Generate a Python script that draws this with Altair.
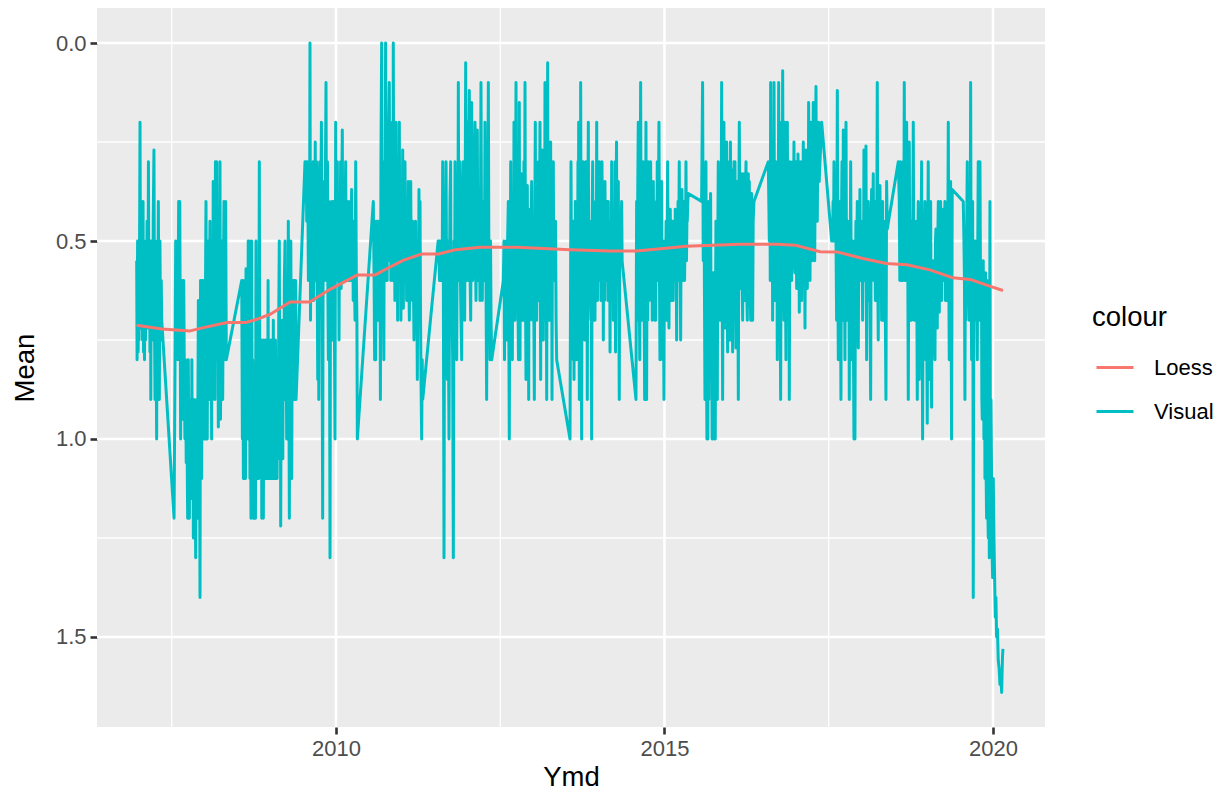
import altair as alt
import pandas as pd

# ---------------- data ----------------
visual_2007a = [(2006.966,0.55),(2006.972,0.80),(2006.980,0.50),(2006.988,0.78),(2006.995,0.60),(2007.002,0.75),(2007.010,0.50),(2007.017,0.20),(2007.025,0.72),(2007.033,0.40),(2007.040,0.70),(2007.047,0.45),(2007.055,0.75),(2007.063,0.40),(2007.070,0.78),(2007.078,0.50),(2007.085,0.80),(2007.093,0.55),(2007.100,0.75),(2007.108,0.50),(2007.116,0.70),(2007.124,0.45),(2007.132,0.72),(2007.140,0.55),(2007.145,0.30),(2007.152,0.70),(2007.160,0.50),(2007.168,0.78),(2007.175,0.50),(2007.181,0.90),(2007.188,0.50),(2007.195,0.70),(2007.202,0.50),(2007.210,0.75),(2007.218,0.45),(2007.229,0.27),(2007.237,0.70),(2007.245,0.90),(2007.253,0.50),(2007.261,0.75),(2007.270,1.00),(2007.278,0.55),(2007.287,0.70),(2007.296,0.40),(2007.304,0.75),(2007.311,0.90),(2007.320,0.50),(2007.330,0.75),(2007.340,0.60),(2007.347,0.70),(2007.535,1.20)]

visual_2007b = [(2007.550,0.80),(2007.560,0.50),(2007.570,0.78),(2007.580,0.50),(2007.592,0.80),(2007.605,0.40),(2007.613,0.80),(2007.622,0.40),(2007.635,1.00),(2007.645,0.60),(2007.655,0.90),(2007.664,0.60),(2007.673,0.95),(2007.682,0.60),(2007.690,0.80),(2007.700,1.00),(2007.710,0.80),(2007.720,1.06),(2007.728,0.90),(2007.742,1.20),(2007.752,0.80),(2007.760,1.10),(2007.768,1.20),(2007.776,0.90),(2007.784,1.15),(2007.792,0.90),(2007.800,1.10),(2007.806,0.80),(2007.813,1.15),(2007.821,0.95),(2007.829,1.25),(2007.837,0.90),(2007.845,1.20),(2007.853,0.95),(2007.864,1.30),(2007.872,1.00),(2007.880,0.90),(2007.888,1.20),(2007.897,0.95),(2007.905,0.65),(2007.913,1.15),(2007.921,0.90),(2007.930,1.40),(2007.938,0.60),(2007.946,1.00),(2007.955,1.10),(2007.963,0.60),(2007.972,0.95),(2007.980,0.60),(2007.990,1.00),(2007.998,0.60),(2008.006,1.00),(2008.014,0.60),(2008.021,0.40),(2008.030,0.90),(2008.040,1.00),(2008.048,0.60),(2008.057,0.50),(2008.066,0.90),(2008.074,0.60),(2008.082,0.45),(2008.090,0.90),(2008.098,0.55),(2008.107,1.00),(2008.115,0.50),(2008.123,0.90),(2008.131,0.35),(2008.140,0.80),(2008.149,0.50),(2008.158,0.90),(2008.165,0.30),(2008.172,0.80),(2008.184,0.30),(2008.192,0.70),(2008.200,0.50),(2008.209,0.97),(2008.217,0.60),(2008.225,0.90),(2008.234,0.30),(2008.242,0.95),(2008.250,0.60),(2008.258,0.80),(2008.266,0.50),(2008.275,0.90),(2008.285,0.60),(2008.295,0.40),(2008.303,0.80),(2008.312,0.50),(2008.320,0.40),(2008.330,0.80),(2008.565,0.60)]

visual_2008 = [(2008.575,1.00),(2008.582,0.60),(2008.590,1.10),(2008.598,0.70),(2008.606,1.00),(2008.614,0.60),(2008.622,1.10),(2008.630,0.57),(2008.638,0.90),(2008.646,0.60),(2008.655,1.00),(2008.664,0.50),(2008.672,0.90),(2008.680,0.50),(2008.690,1.10),(2008.698,0.80),(2008.706,1.20),(2008.716,0.50),(2008.724,1.00),(2008.732,0.80),(2008.741,1.20),(2008.750,0.90),(2008.758,1.20),(2008.766,0.85),(2008.774,1.20),(2008.782,0.50),(2008.790,1.10),(2008.798,0.80),(2008.806,1.00),(2008.814,0.80),(2008.822,1.10),(2008.833,0.30),(2008.841,1.00),(2008.849,0.80),(2008.857,1.10),(2008.865,0.75),(2008.870,1.20),(2008.878,0.80),(2008.886,1.05),(2008.894,1.20),(2008.902,0.75),(2008.910,1.10),(2008.918,0.80),(2008.926,1.10),(2008.934,0.75),(2008.942,1.05),(2008.950,0.80),(2008.958,1.10),(2008.966,0.60),(2008.974,1.05),(2008.982,0.75),(2008.990,1.10),(2008.998,0.80),(2009.006,1.10),(2009.014,0.75),(2009.022,1.05),(2009.030,0.80),(2009.038,1.10),(2009.046,0.70),(2009.054,1.05),(2009.062,0.80),(2009.070,1.10),(2009.078,0.75),(2009.087,1.00),(2009.095,0.80),(2009.103,1.10),(2009.111,0.80),(2009.120,1.05),(2009.128,0.70),(2009.137,0.50),(2009.145,1.00),(2009.152,0.70),(2009.158,1.22),(2009.166,0.80),(2009.174,1.00),(2009.182,0.70),(2009.190,1.05),(2009.198,0.70),(2009.206,0.90),(2009.214,0.60),(2009.224,0.50),(2009.232,0.90),(2009.240,0.70),(2009.249,1.00),(2009.257,0.60),(2009.266,0.90),(2009.274,0.45),(2009.282,0.80),(2009.290,1.20),(2009.298,0.60),(2009.306,0.90),(2009.312,0.50),(2009.320,0.80),(2009.326,1.10),(2009.334,0.70),(2009.342,0.90),(2009.350,0.60),(2009.360,0.80),(2009.368,0.60),(2009.376,0.90),(2009.386,0.60),(2009.392,0.90),(2009.528,0.30)]

visual_2009 = [(2009.538,0.40),(2009.546,0.30),(2009.555,0.45),(2009.563,0.30),(2009.572,0.40),(2009.580,0.60),(2009.588,0.40),(2009.596,0.60),(2009.604,0.00),(2009.612,0.70),(2009.620,0.40),(2009.628,0.65),(2009.636,0.35),(2009.644,0.60),(2009.652,0.30),(2009.660,0.65),(2009.668,0.40),(2009.676,0.60),(2009.684,0.25),(2009.692,0.60),(2009.700,0.40),(2009.706,0.30),(2009.714,0.60),(2009.722,0.85),(2009.730,0.40),(2009.738,0.90),(2009.746,0.40),(2009.754,0.30),(2009.762,0.65),(2009.770,0.40),(2009.778,0.20),(2009.786,0.60),(2009.797,1.20),(2009.805,0.40),(2009.813,0.60),(2009.820,0.35),(2009.828,0.60),(2009.836,0.40),(2009.848,0.10),(2009.856,0.60),(2009.864,0.40),(2009.870,0.30),(2009.877,0.65),(2009.884,0.80),(2009.892,0.40),(2009.900,0.60),(2009.909,1.30),(2009.917,0.45),(2009.925,0.60),(2009.934,0.40),(2009.940,0.75),(2009.948,0.45),(2009.956,0.70),(2009.964,0.40),(2009.972,0.60),(2009.985,1.00),(2009.995,0.20),(2010.003,0.60),(2010.011,0.45),(2010.020,0.30),(2010.028,0.60),(2010.036,0.40),(2010.046,0.75),(2010.054,0.40),(2010.062,0.60),(2010.070,0.30),(2010.078,0.62),(2010.086,0.40),(2010.096,0.22),(2010.104,0.60),(2010.112,0.40),(2010.120,0.35),(2010.128,0.60),(2010.137,0.45),(2010.147,0.30),(2010.155,0.60),(2010.163,0.45),(2010.172,0.60),(2010.180,0.40),(2010.190,0.60),(2010.198,0.45),(2010.206,0.60),(2010.214,0.40),(2010.222,0.60),(2010.230,0.45),(2010.238,0.37),(2010.246,0.60),(2010.254,0.45),(2010.262,0.65),(2010.270,0.45),(2010.280,0.60),(2010.290,0.70),(2010.300,0.30),(2010.310,0.60),(2010.318,0.70),(2010.325,1.00),(2010.568,0.40)]

visual_2010 = [(2010.580,0.60),(2010.588,0.80),(2010.596,0.60),(2010.604,0.80),(2010.612,0.45),(2010.620,0.70),(2010.628,0.60),(2010.636,0.45),(2010.644,0.70),(2010.652,0.45),(2010.660,0.70),(2010.668,0.45),(2010.676,0.90),(2010.684,0.30),(2010.695,0.00),(2010.703,0.60),(2010.711,0.30),(2010.719,0.60),(2010.728,0.80),(2010.736,0.30),(2010.744,0.60),(2010.755,0.00),(2010.763,0.60),(2010.771,0.30),(2010.779,0.60),(2010.787,0.30),(2010.795,0.55),(2010.803,0.20),(2010.811,0.10),(2010.819,0.55),(2010.827,0.20),(2010.835,0.60),(2010.843,0.30),(2010.851,0.50),(2010.859,0.30),(2010.866,0.60),(2010.872,0.00),(2010.880,0.55),(2010.888,0.30),(2010.896,0.65),(2010.904,0.30),(2010.914,0.20),(2010.922,0.60),(2010.930,0.40),(2010.938,0.70),(2010.946,0.30),(2010.954,0.60),(2010.964,0.20),(2010.972,0.60),(2010.980,0.35),(2010.988,0.70),(2010.996,0.35),(2011.005,0.60),(2011.015,0.27),(2011.025,0.67),(2011.033,0.40),(2011.041,0.60),(2011.050,0.30),(2011.058,0.60),(2011.066,0.40),(2011.075,0.65),(2011.083,0.40),(2011.091,0.60),(2011.100,0.35),(2011.108,0.60),(2011.117,0.70),(2011.125,0.45),(2011.137,0.35),(2011.145,0.60),(2011.153,0.45),(2011.161,0.65),(2011.169,0.45),(2011.178,0.60),(2011.187,0.75),(2011.195,0.50),(2011.203,0.65),(2011.211,0.45),(2011.219,0.60),(2011.227,0.55),(2011.238,0.85),(2011.246,0.55),(2011.254,0.70),(2011.263,0.37),(2011.271,0.70),(2011.279,0.40),(2011.287,0.70),(2011.294,0.85),(2011.304,1.00),(2011.312,0.80),(2011.320,0.90),(2011.555,0.50)]

visual_2011 = [(2011.565,0.50),(2011.575,0.60),(2011.583,0.50),(2011.592,0.60),(2011.600,0.55),(2011.609,0.50),(2011.616,0.60),(2011.624,0.30),(2011.634,0.60),(2011.644,1.30),(2011.652,0.50),(2011.660,0.70),(2011.668,0.50),(2011.675,0.30),(2011.683,0.60),(2011.695,0.85),(2011.703,0.50),(2011.710,0.70),(2011.720,1.00),(2011.728,0.60),(2011.735,0.40),(2011.745,0.30),(2011.752,0.70),(2011.760,0.60),(2011.768,0.70),(2011.776,0.80),(2011.786,1.30),(2011.796,0.50),(2011.804,0.70),(2011.812,0.30),(2011.819,0.60),(2011.826,0.70),(2011.837,0.80),(2011.847,0.40),(2011.855,0.60),(2011.862,0.10),(2011.870,0.60),(2011.877,0.60),(2011.887,0.30),(2011.895,0.60),(2011.903,0.70),(2011.913,0.80),(2011.920,0.40),(2011.928,0.40),(2011.938,0.30),(2011.946,0.60),(2011.958,0.70),(2011.966,0.40),(2011.974,0.05),(2011.981,0.60),(2011.989,0.60),(2011.999,0.20),(2012.006,0.50),(2012.014,0.60),(2012.021,0.30),(2012.029,0.12),(2012.038,0.55),(2012.050,0.70),(2012.058,0.40),(2012.065,0.15),(2012.072,0.55),(2012.080,0.60),(2012.090,0.55),(2012.098,0.40),(2012.106,0.30),(2012.116,0.20),(2012.124,0.55),(2012.131,0.65),(2012.141,0.40),(2012.151,0.22),(2012.159,0.55),(2012.166,0.60),(2012.177,0.40),(2012.185,0.55),(2012.192,0.65),(2012.200,0.40),(2012.207,0.10),(2012.216,0.55),(2012.227,0.65),(2012.235,0.40),(2012.243,0.45),(2012.251,0.60),(2012.258,0.60),(2012.268,0.20),(2012.276,0.55),(2012.283,0.60),(2012.293,0.90),(2012.303,0.50),(2012.311,0.40),(2012.319,0.10),(2012.327,0.55),(2012.334,0.60),(2012.344,0.80),(2012.352,0.50),(2012.360,0.70),(2012.370,0.80),(2012.547,0.60)]

visual_2012 = [(2012.557,0.50),(2012.565,0.80),(2012.573,0.55),(2012.582,0.75),(2012.592,0.50),(2012.600,0.75),(2012.612,0.50),(2012.623,0.40),(2012.630,0.70),(2012.638,1.00),(2012.646,0.50),(2012.652,0.60),(2012.659,0.30),(2012.666,0.60),(2012.672,0.55),(2012.684,0.80),(2012.690,0.50),(2012.697,0.40),(2012.703,0.70),(2012.709,0.20),(2012.717,0.60),(2012.725,0.70),(2012.732,0.45),(2012.740,0.10),(2012.746,0.60),(2012.752,0.60),(2012.758,0.45),(2012.765,0.40),(2012.772,0.70),(2012.778,0.80),(2012.784,0.45),(2012.790,0.15),(2012.795,0.60),(2012.801,0.80),(2012.808,0.45),(2012.815,0.50),(2012.820,0.70),(2012.826,0.33),(2012.834,0.60),(2012.841,0.70),(2012.846,0.45),(2012.851,0.45),(2012.856,0.70),(2012.861,0.30),(2012.868,0.60),(2012.877,0.10),(2012.884,0.60),(2012.892,0.85),(2012.897,0.45),(2012.902,0.50),(2012.907,0.70),(2012.912,0.36),(2012.917,0.60),(2012.922,0.70),(2012.928,0.45),(2012.933,0.90),(2012.938,0.45),(2012.943,0.50),(2012.948,0.70),(2012.953,0.42),(2012.960,0.60),(2012.965,0.65),(2012.972,0.45),(2012.978,0.35),(2012.985,0.60),(2012.993,0.70),(2012.999,0.45),(2013.005,0.45),(2013.012,0.70),(2013.019,0.90),(2013.026,0.45),(2013.034,0.20),(2013.039,0.60),(2013.044,0.60),(2013.049,0.45),(2013.054,0.70),(2013.060,0.45),(2013.067,0.40),(2013.073,0.65),(2013.080,0.30),(2013.086,0.60),(2013.092,0.65),(2013.098,0.45),(2013.105,0.20),(2013.110,0.60),(2013.115,0.85),(2013.122,0.45),(2013.128,0.50),(2013.134,0.70),(2013.141,0.27),(2013.148,0.60),(2013.156,0.75),(2013.162,0.45),(2013.168,0.45),(2013.174,0.70),(2013.181,0.10),(2013.188,0.60),(2013.194,0.60),(2013.200,0.45),(2013.207,0.90),(2013.214,0.40),(2013.222,0.05),(2013.227,0.60),(2013.232,0.60),(2013.237,0.45),(2013.242,0.55),(2013.248,0.70),(2013.255,0.40),(2013.261,0.60),(2013.267,0.25),(2013.272,0.60),(2013.278,0.60),(2013.283,0.45),(2013.288,0.90),(2013.294,0.45),(2013.300,0.50),(2013.308,0.30),(2013.314,0.60),(2013.320,0.60),(2013.326,0.45),(2013.333,0.60),(2013.341,0.45),(2013.350,0.70),(2013.359,0.80),(2013.562,1.00)]

visual_2013 = [(2013.577,0.30),(2013.584,0.60),(2013.590,0.60),(2013.596,0.45),(2013.602,0.50),(2013.607,0.70),(2013.612,0.80),(2013.617,0.45),(2013.623,0.85),(2013.628,0.45),(2013.633,0.50),(2013.638,0.70),(2013.643,0.40),(2013.648,0.60),(2013.653,0.70),(2013.658,0.45),(2013.663,0.80),(2013.670,0.45),(2013.677,0.60),(2013.683,0.30),(2013.689,0.60),(2013.694,0.20),(2013.699,0.60),(2013.704,0.90),(2013.709,0.45),(2013.714,0.50),(2013.719,0.70),(2013.724,0.10),(2013.731,0.60),(2013.739,1.00),(2013.745,0.45),(2013.750,0.50),(2013.757,0.70),(2013.765,0.30),(2013.770,0.60),(2013.775,0.60),(2013.780,0.45),(2013.785,0.75),(2013.790,0.45),(2013.795,0.50),(2013.800,0.70),(2013.805,0.30),(2013.810,0.60),(2013.815,0.60),(2013.820,0.45),(2013.825,0.90),(2013.833,0.45),(2013.841,0.20),(2013.846,0.60),(2013.852,0.60),(2013.859,0.45),(2013.866,0.50),(2013.873,0.65),(2013.880,0.70),(2013.885,0.45),(2013.891,1.00),(2013.899,0.45),(2013.907,0.30),(2013.913,0.60),(2013.920,0.60),(2013.927,0.45),(2013.935,0.70),(2013.942,0.70),(2013.948,0.45),(2013.955,0.40),(2013.961,0.65),(2013.968,0.20),(2013.974,0.60),(2013.980,0.65),(2013.986,0.45),(2013.993,0.60),(2014.000,0.45),(2014.008,0.30),(2014.014,0.60),(2014.020,0.60),(2014.027,0.45),(2014.033,0.65),(2014.041,0.45),(2014.049,0.30),(2014.055,0.60),(2014.060,0.55),(2014.065,0.45),(2014.069,0.75),(2014.075,0.45),(2014.080,0.50),(2014.087,0.65),(2014.094,0.35),(2014.101,0.60),(2014.108,0.60),(2014.114,0.45),(2014.120,0.60),(2014.126,0.45),(2014.132,0.40),(2014.138,0.65),(2014.145,0.40),(2014.151,0.60),(2014.158,0.65),(2014.164,0.45),(2014.171,0.78),(2014.177,0.45),(2014.183,0.45),(2014.190,0.65),(2014.196,0.30),(2014.203,0.60),(2014.210,0.60),(2014.215,0.45),(2014.221,0.70),(2014.228,0.45),(2014.235,0.45),(2014.241,0.60),(2014.247,0.30),(2014.255,0.78),(2014.262,0.45),(2014.270,0.25),(2014.277,0.60),(2014.285,0.60),(2014.291,0.45),(2014.297,0.35),(2014.304,0.60),(2014.312,0.90),(2014.318,0.50),(2014.325,0.45),(2014.335,0.50),(2014.348,0.40),(2014.355,0.55),(2014.566,0.90)]

visual_2014 = [(2014.576,0.40),(2014.584,0.70),(2014.592,0.40),(2014.601,0.20),(2014.609,0.60),(2014.616,0.60),(2014.624,0.80),(2014.630,0.40),(2014.637,0.10),(2014.645,0.60),(2014.652,0.70),(2014.660,0.40),(2014.668,0.70),(2014.677,0.30),(2014.685,0.60),(2014.692,0.70),(2014.698,0.90),(2014.706,0.40),(2014.712,0.60),(2014.718,0.20),(2014.728,0.90),(2014.736,0.40),(2014.745,0.70),(2014.753,0.30),(2014.761,0.60),(2014.769,0.65),(2014.777,0.40),(2014.789,0.30),(2014.797,0.60),(2014.805,0.40),(2014.814,0.70),(2014.822,0.45),(2014.830,0.35),(2014.838,0.60),(2014.845,0.40),(2014.855,0.70),(2014.865,0.70),(2014.873,0.45),(2014.881,0.60),(2014.890,0.30),(2014.898,0.60),(2014.906,0.45),(2014.916,0.20),(2014.924,0.60),(2014.931,0.80),(2014.939,0.45),(2014.947,0.60),(2014.956,0.35),(2014.964,0.60),(2014.972,0.80),(2014.980,0.50),(2014.992,0.90),(2015.000,0.50),(2015.007,0.50),(2015.015,0.65),(2015.024,0.45),(2015.033,0.70),(2015.040,0.50),(2015.048,0.30),(2015.056,0.60),(2015.062,0.45),(2015.068,0.72),(2015.076,0.50),(2015.082,0.60),(2015.088,0.42),(2015.096,0.60),(2015.102,0.50),(2015.109,0.65),(2015.117,0.45),(2015.124,0.45),(2015.132,0.65),(2015.138,0.50),(2015.144,0.60),(2015.152,0.45),(2015.158,0.60),(2015.164,0.42),(2015.172,0.60),(2015.178,0.50),(2015.185,0.75),(2015.192,0.45),(2015.200,0.60),(2015.206,0.40),(2015.214,0.60),(2015.225,0.30),(2015.232,0.55),(2015.240,0.60),(2015.246,0.75),(2015.254,0.45),(2015.260,0.60),(2015.266,0.37),(2015.274,0.60),(2015.280,0.45),(2015.288,0.60),(2015.296,0.40),(2015.306,0.60),(2015.314,0.45),(2015.320,0.55),(2015.327,0.30),(2015.335,0.55),(2015.341,0.45),(2015.347,0.45),(2015.355,0.40),(2015.362,0.38),(2015.565,0.40)]

visual_2015 = [(2015.580,0.10),(2015.590,0.55),(2015.598,0.40),(2015.606,0.55),(2015.616,0.90),(2015.624,0.55),(2015.631,0.30),(2015.640,0.80),(2015.646,1.00),(2015.652,0.55),(2015.660,1.00),(2015.667,0.40),(2015.675,0.90),(2015.683,0.42),(2015.690,0.70),(2015.697,0.42),(2015.702,0.38),(2015.710,0.80),(2015.717,0.60),(2015.725,1.00),(2015.733,1.00),(2015.741,0.58),(2015.748,0.90),(2015.755,0.58),(2015.763,1.00),(2015.773,1.00),(2015.779,0.60),(2015.783,0.45),(2015.790,0.80),(2015.797,0.60),(2015.804,0.90),(2015.811,0.50),(2015.819,0.30),(2015.826,0.65),(2015.834,0.50),(2015.844,0.70),(2015.852,0.40),(2015.860,0.60),(2015.870,0.10),(2015.878,0.60),(2015.885,0.90),(2015.893,0.40),(2015.899,0.60),(2015.905,0.20),(2015.913,0.60),(2015.920,0.40),(2015.925,0.72),(2015.933,0.40),(2015.940,0.60),(2015.946,0.25),(2015.954,0.60),(2015.961,0.78),(2015.969,0.40),(2015.975,0.60),(2015.981,0.30),(2015.989,0.60),(2015.996,0.75),(2016.004,0.25),(2016.012,0.60),(2016.022,0.32),(2016.030,0.60),(2016.037,0.78),(2016.045,0.40),(2016.052,0.60),(2016.058,0.30),(2016.066,0.70),(2016.073,0.30),(2016.080,0.60),(2016.088,0.77),(2016.096,0.40),(2016.103,0.60),(2016.109,0.35),(2016.117,0.60),(2016.124,0.90),(2016.132,0.40),(2016.139,0.20),(2016.147,0.50),(2016.159,0.62),(2016.167,0.40),(2016.175,0.33),(2016.182,0.60),(2016.190,0.70),(2016.198,0.40),(2016.204,0.60),(2016.210,0.33),(2016.218,0.60),(2016.225,0.65),(2016.233,0.40),(2016.241,0.30),(2016.249,0.60),(2016.261,0.70),(2016.268,0.40),(2016.276,0.33),(2016.284,0.60),(2016.291,0.35),(2016.300,0.60),(2016.312,0.70),(2016.320,0.45),(2016.327,0.38),(2016.335,0.60),(2016.342,0.70),(2016.350,0.45),(2016.362,0.40),(2016.580,0.30)]

visual_2016 = [(2016.596,0.50),(2016.604,0.30),(2016.610,0.60),(2016.616,0.10),(2016.624,0.50),(2016.631,0.50),(2016.639,0.30),(2016.646,0.70),(2016.654,0.40),(2016.660,0.60),(2016.667,0.10),(2016.675,0.50),(2016.682,0.65),(2016.690,0.40),(2016.697,0.30),(2016.705,0.60),(2016.711,0.45),(2016.717,0.80),(2016.724,0.40),(2016.730,0.60),(2016.738,0.10),(2016.746,0.50),(2016.752,0.60),(2016.758,0.55),(2016.768,0.90),(2016.776,0.40),(2016.783,0.20),(2016.791,0.55),(2016.799,0.07),(2016.807,0.50),(2016.813,0.60),(2016.819,0.70),(2016.827,0.40),(2016.834,0.20),(2016.842,0.60),(2016.849,0.80),(2016.857,0.40),(2016.863,0.60),(2016.870,0.20),(2016.878,0.60),(2016.885,0.70),(2016.893,0.40),(2016.900,0.90),(2016.910,0.30),(2016.918,0.55),(2016.926,0.40),(2016.936,0.60),(2016.944,0.40),(2016.951,0.30),(2016.959,0.55),(2016.965,0.40),(2016.971,0.25),(2016.979,0.55),(2016.986,0.58),(2016.994,0.40),(2017.002,0.30),(2017.008,0.55),(2017.012,0.62),(2017.020,0.40),(2017.026,0.55),(2017.032,0.28),(2017.040,0.55),(2017.046,0.45),(2017.052,0.68),(2017.060,0.40),(2017.066,0.55),(2017.073,0.30),(2017.080,0.55),(2017.088,0.65),(2017.096,0.40),(2017.104,0.55),(2017.113,0.25),(2017.120,0.55),(2017.130,0.45),(2017.139,0.72),(2017.146,0.40),(2017.154,0.27),(2017.162,0.50),(2017.174,0.62),(2017.182,0.40),(2017.188,0.50),(2017.194,0.15),(2017.202,0.50),(2017.208,0.40),(2017.215,0.60),(2017.222,0.35),(2017.230,0.20),(2017.238,0.50),(2017.244,0.40),(2017.250,0.55),(2017.258,0.35),(2017.265,0.15),(2017.272,0.50),(2017.280,0.40),(2017.286,0.55),(2017.294,0.35),(2017.306,0.11),(2017.314,0.45),(2017.320,0.30),(2017.326,0.45),(2017.334,0.25),(2017.347,0.20),(2017.355,0.35),(2017.367,0.30),(2017.380,0.25),(2017.392,0.20),(2017.545,0.50)]

visual_2017 = [(2017.558,0.50),(2017.566,0.40),(2017.573,0.50),(2017.580,0.30),(2017.588,0.50),(2017.595,0.50),(2017.602,0.40),(2017.610,0.48),(2017.620,0.70),(2017.631,0.12),(2017.639,0.60),(2017.646,0.80),(2017.654,0.50),(2017.661,0.40),(2017.669,0.70),(2017.677,0.50),(2017.686,0.90),(2017.694,0.45),(2017.702,0.30),(2017.710,0.70),(2017.716,0.50),(2017.722,0.22),(2017.730,0.60),(2017.738,0.50),(2017.747,0.80),(2017.755,0.40),(2017.763,0.20),(2017.771,0.60),(2017.777,0.50),(2017.783,0.70),(2017.791,0.45),(2017.799,0.60),(2017.806,0.50),(2017.813,0.90),(2017.821,0.45),(2017.827,0.60),(2017.834,0.30),(2017.842,0.60),(2017.848,0.80),(2017.856,0.50),(2017.862,0.75),(2017.869,0.50),(2017.874,0.70),(2017.884,1.00),(2017.892,0.50),(2017.899,1.00),(2017.906,0.60),(2017.914,0.45),(2017.922,0.65),(2017.928,0.50),(2017.935,0.40),(2017.943,0.60),(2017.950,0.77),(2017.958,0.50),(2017.966,0.60),(2017.975,0.37),(2017.983,0.60),(2017.990,0.45),(2018.001,0.60),(2018.008,0.50),(2018.016,0.70),(2018.024,0.45),(2018.030,0.60),(2018.036,0.27),(2018.044,0.60),(2018.051,0.60),(2018.059,0.45),(2018.067,0.26),(2018.072,0.60),(2018.077,0.80),(2018.085,0.45),(2018.093,0.60),(2018.102,0.40),(2018.110,0.65),(2018.117,0.55),(2018.125,0.45),(2018.131,0.70),(2018.138,0.90),(2018.146,0.45),(2018.153,0.37),(2018.161,0.60),(2018.170,0.45),(2018.178,0.33),(2018.186,0.60),(2018.193,0.60),(2018.201,0.45),(2018.210,0.65),(2018.219,0.40),(2018.226,0.60),(2018.232,0.45),(2018.239,0.10),(2018.247,0.60),(2018.254,0.75),(2018.262,0.45),(2018.270,0.60),(2018.280,0.36),(2018.288,0.60),(2018.296,0.45),(2018.305,0.70),(2018.313,0.50),(2018.320,0.40),(2018.330,0.70),(2018.340,0.45),(2018.351,0.50),(2018.360,0.65),(2018.371,0.90),(2018.381,0.35),(2018.391,0.47),(2018.559,0.30)]

visual_2018 = [(2018.574,0.40),(2018.582,0.60),(2018.588,0.45),(2018.594,0.30),(2018.602,0.60),(2018.609,0.55),(2018.617,0.40),(2018.625,0.60),(2018.635,0.30),(2018.642,0.55),(2018.650,0.10),(2018.658,0.60),(2018.664,0.45),(2018.670,0.60),(2018.678,0.40),(2018.686,0.20),(2018.694,0.60),(2018.702,0.50),(2018.711,0.90),(2018.719,0.50),(2018.726,0.25),(2018.734,0.60),(2018.740,0.50),(2018.746,0.70),(2018.754,0.45),(2018.760,0.70),(2018.767,0.50),(2018.775,0.60),(2018.787,0.20),(2018.795,0.60),(2018.802,0.70),(2018.810,0.50),(2018.816,0.70),(2018.822,0.45),(2018.830,0.70),(2018.838,0.50),(2018.848,0.90),(2018.856,0.50),(2018.863,0.40),(2018.871,0.70),(2018.878,0.85),(2018.886,0.50),(2018.892,0.70),(2018.899,0.60),(2018.906,0.50),(2018.914,0.30),(2018.922,0.70),(2018.929,1.00),(2018.937,0.60),(2018.943,0.80),(2018.949,0.70),(2018.957,0.50),(2018.965,0.40),(2018.972,0.70),(2018.980,0.80),(2018.988,0.55),(2018.994,0.80),(2019.000,0.96),(2019.008,0.50),(2019.015,0.30),(2019.023,0.70),(2019.031,0.85),(2019.039,0.55),(2019.045,0.80),(2019.051,0.40),(2019.058,0.70),(2019.066,0.92),(2019.074,0.55),(2019.081,0.60),(2019.089,0.70),(2019.095,0.55),(2019.102,0.55),(2019.110,0.75),(2019.117,0.80),(2019.125,0.50),(2019.132,0.47),(2019.140,0.70),(2019.146,0.50),(2019.152,0.72),(2019.160,0.50),(2019.168,0.40),(2019.176,0.65),(2019.183,0.68),(2019.191,0.45),(2019.197,0.60),(2019.203,0.40),(2019.211,0.65),(2019.218,0.65),(2019.226,0.45),(2019.233,0.42),(2019.241,0.60),(2019.247,0.50),(2019.254,0.60),(2019.262,0.45),(2019.269,0.40),(2019.277,0.65),(2019.285,0.50),(2019.294,0.65),(2019.302,0.45),(2019.310,0.60),(2019.320,0.20),(2019.328,0.60),(2019.335,0.80),(2019.343,0.50),(2019.350,0.60),(2019.355,0.35),(2019.362,0.60),(2019.370,1.00),(2019.380,0.37),(2019.548,0.40)]

visual_2019 = [(2019.558,0.50),(2019.566,0.60),(2019.573,0.90),(2019.580,0.50),(2019.588,0.70),(2019.599,0.50),(2019.609,0.30),(2019.616,0.60),(2019.624,0.40),(2019.632,0.60),(2019.639,0.70),(2019.647,0.50),(2019.653,0.60),(2019.660,0.10),(2019.668,0.60),(2019.675,0.80),(2019.683,0.50),(2019.690,0.40),(2019.695,0.70),(2019.700,1.40),(2019.708,0.60),(2019.715,0.50),(2019.723,0.70),(2019.731,0.50),(2019.741,0.70),(2019.750,0.60),(2019.761,0.80),(2019.769,0.50),(2019.776,0.30),(2019.784,0.60),(2019.790,0.50),(2019.796,0.70),(2019.802,0.30),(2019.810,0.60),(2019.817,0.70),(2019.825,0.60),(2019.831,0.90),(2019.837,0.95),(2019.845,0.60),(2019.852,0.55),(2019.862,1.00),(2019.870,0.60),(2019.878,1.10),(2019.886,0.58),(2019.893,1.05),(2019.903,1.20),(2019.910,0.60),(2019.918,1.15),(2019.929,1.25),(2019.936,0.70),(2019.944,1.30),(2019.954,0.40),(2019.962,1.20),(2019.970,0.90),(2019.979,1.10),(2019.988,1.30),(2019.995,1.35),(2020.005,1.10),(2020.015,1.25),(2020.025,1.35),(2020.035,1.45),(2020.045,1.40),(2020.055,1.50),(2020.068,1.48),(2020.081,1.56),(2020.094,1.58),(2020.106,1.62),(2020.120,1.60),(2020.132,1.64),(2020.145,1.55),(2020.152,1.53)]

loess_ymd = [2006.965, 2007.35, 2007.78, 2007.95, 2008.34, 2008.62, 2008.77, 2009.0, 2009.3, 2009.6,
             2009.91, 2010.32, 2010.59, 2010.75, 2011.02, 2011.3, 2011.56, 2011.79, 2012.19, 2012.75,
             2013.56, 2014.17, 2014.57, 2014.98, 2015.33, 2016.15, 2016.71, 2017.0, 2017.37, 2017.64,
             2018.02, 2018.38, 2018.69, 2019.04, 2019.39, 2019.65, 2019.95, 2020.152]
loess_mean = [0.713, 0.722, 0.727, 0.720, 0.706, 0.706, 0.699, 0.685, 0.654, 0.654,
              0.622, 0.586, 0.586, 0.572, 0.549, 0.533, 0.533, 0.523, 0.516, 0.516,
              0.522, 0.525, 0.525, 0.519, 0.513, 0.508, 0.508, 0.511, 0.527, 0.528,
              0.544, 0.557, 0.560, 0.573, 0.593, 0.597, 0.614, 0.625]

series_names = ["Loess", "Visual"]
series_colors = ["#F8766D", "#00BFC4"]

y_major = [0.0, 0.5, 1.0, 1.5]
y_minor = [0.25, 0.75, 1.25]
x_major = [2010, 2015, 2020]
x_minor = [2007.5, 2012.5, 2017.5]

# ---------------- tables ----------------
visual_segments = [visual_2007a, visual_2007b, visual_2008, visual_2009, visual_2010, visual_2011,
                   visual_2012, visual_2013, visual_2014, visual_2015, visual_2016, visual_2017,
                   visual_2018, visual_2019]
visual_df = pd.DataFrame(
    [{"Ymd": x, "Mean": y, "colour": "Visual"} for seg in visual_segments for (x, y) in seg]
)
loess_df = pd.DataFrame({"Ymd": loess_ymd, "Mean": loess_mean, "colour": "Loess"})

FONT = "Liberation Sans"
LW = 3.0
GW = 2.6

x_scale = alt.Scale(domain=[2006.362, 2020.792], nice=False, zero=False)
y_scale = alt.Scale(domain=[-0.0884, 1.7273], nice=False, zero=False, reverse=True)
color_scale = alt.Scale(domain=series_names, range=series_colors)

x_axis = alt.Axis(values=x_major, format="d", title="Ymd", grid=False, titlePadding=4)
y_axis = alt.Axis(values=y_major, format=".1f", title="Mean", grid=False, titlePadding=16)

hmajor = alt.Chart(pd.DataFrame({"Mean": y_major})).mark_rule(color="white", strokeWidth=GW).encode(
    y=alt.Y("Mean:Q", scale=y_scale, axis=y_axis))
hminor = alt.Chart(pd.DataFrame({"Mean": y_minor})).mark_rule(color="white", strokeWidth=GW / 2).encode(
    y=alt.Y("Mean:Q", scale=y_scale, axis=y_axis))
vmajor = alt.Chart(pd.DataFrame({"Ymd": x_major})).mark_rule(color="white", strokeWidth=GW).encode(
    x=alt.X("Ymd:Q", scale=x_scale, axis=x_axis))
vminor = alt.Chart(pd.DataFrame({"Ymd": x_minor})).mark_rule(color="white", strokeWidth=GW / 2).encode(
    x=alt.X("Ymd:Q", scale=x_scale, axis=x_axis))

legend = alt.Legend(
    title="colour", orient="none", legendX=995, legendY=296,
    titleFont=FONT, titleFontSize=27.5, titleFontWeight="normal", titleColor="black",
    titlePadding=16, labelFont=FONT, labelFontSize=22, labelColor="black",
    symbolType="stroke", symbolSize=1369, symbolStrokeWidth=LW, symbolOffset=3,
    labelOffset=19, rowPadding=13, padding=0,
)

visual_line = alt.Chart(visual_df).mark_line(strokeWidth=LW, strokeJoin="round").encode(
    x=alt.X("Ymd:Q", scale=x_scale, axis=x_axis),
    y=alt.Y("Mean:Q", scale=y_scale, axis=y_axis),
    color=alt.Color("colour:N", scale=color_scale, legend=legend),
)
loess_line = alt.Chart(loess_df).mark_line(strokeWidth=LW, strokeJoin="round").encode(
    x=alt.X("Ymd:Q", scale=x_scale, axis=x_axis),
    y=alt.Y("Mean:Q", scale=y_scale, axis=y_axis),
    color=alt.Color("colour:N", scale=color_scale, legend=legend),
)

chart = alt.layer(hminor, vminor, hmajor, vmajor, visual_line, loess_line).properties(
    width=948, height=719,
    padding={"left": 89, "top": 0, "right": 168, "bottom": 68},
    autosize=alt.AutoSizeParams(type="none"),
).configure_view(
    fill="#EBEBEB", strokeWidth=0
).configure_axis(
    domain=False, tickColor="#333333", tickWidth=GW, tickSize=7,
    labelFont=FONT, labelFontSize=22, labelColor="#4D4D4D", labelPadding=4,
    titleFont=FONT, titleFontSize=27.5, titleFontWeight="normal", titleColor="black",
)

chart.save("out.html", embed_options={"renderer": "svg", "actions": False})
